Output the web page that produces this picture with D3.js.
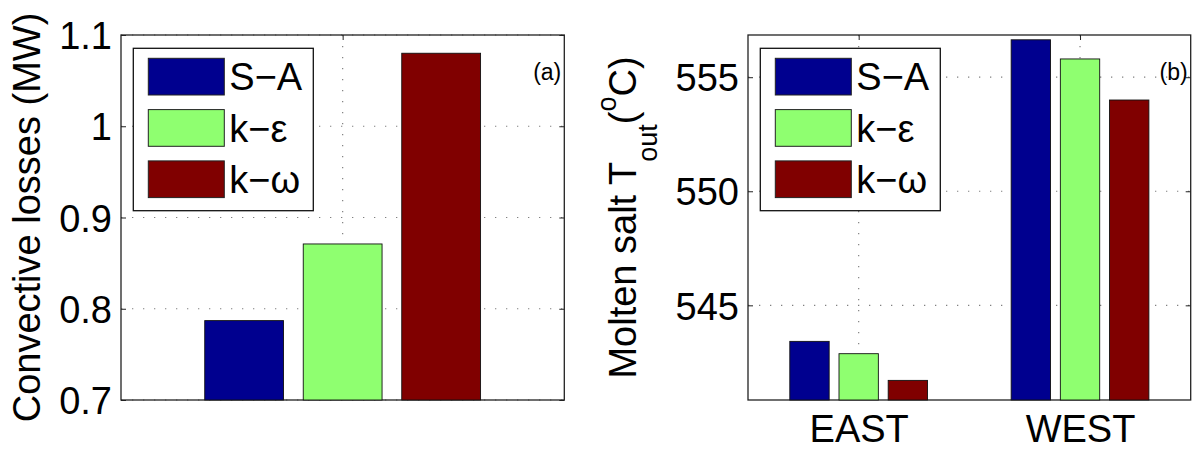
<!DOCTYPE html>
<html>
<head>
<meta charset="utf-8">
<script src="https://cdn.jsdelivr.net/npm/d3@7"></script>
<style>
  html, body { margin: 0; padding: 0; background: #fff; }
  svg { display: block; font-family: "Liberation Sans", Arial, Helvetica, sans-serif; }
</style>
</head>
<body>
<svg id="chart" width="1196" height="449"></svg>
<script>
// ---------- data ----------
const seriesNames = ["S\u2212A", "k\u2212\u03b5", "k\u2212\u03c9"];
const lossValues = [0.787, 0.871, 1.080];            // panel (a), MW
const lossTicks = [0.7, 0.8, 0.9, 1.0, 1.1];
const lossTickLabels = ["0.7", "0.8", "0.9", "1", "1.1"];
const regions = ["EAST", "WEST"];
const toutSA = [543.42, 556.64];                      // panel (b), °C
const toutKE = [542.88, 555.80];
const toutKW = [541.71, 554.00];
const toutTicks = [545, 550, 555];
const toutTickLabels = ["545", "550", "555"];

// ---------- styles ----------
const colors = ["#00008F", "#8FFF70", "#800000"];
const FS = 38;
const svg = d3.select("#chart");

function panel(opts) {
  const { x0, x1, y0, y1, xDomain, yDomain, xTicks, xLabels, yTicks, yLabels, groups, tag } = opts;
  const x = d3.scaleLinear().domain(xDomain).range([x0, x1]);
  const y = d3.scaleLinear().domain(yDomain).range([y1, y0]);
  const g = svg.append("g");

  // grid (dotted)
  const grid = g.append("g").attr("stroke", "#808080").attr("stroke-width", 1.2)
    .attr("stroke-dasharray", "1.3,9.7").attr("fill", "none");
  grid.selectAll("line.h").data(yTicks).join("line")
    .attr("x1", x0).attr("x2", x1).attr("y1", d => y(d)).attr("y2", d => y(d));
  grid.selectAll("line.v").data(xTicks).join("line")
    .attr("x1", d => x(d)).attr("x2", d => x(d)).attr("y1", y0).attr("y2", y1);

  // axes with inward ticks
  const styleAxis = sel => {
    sel.select(".domain").remove();
    sel.selectAll(".tick line").attr("stroke", "#222").attr("stroke-width", 1);
    sel.selectAll(".tick text").attr("font-size", FS).attr("fill", "#000")
      .attr("font-family", "Liberation Sans, Arial, Helvetica, sans-serif");
  };
  g.append("g").attr("transform", `translate(${x0},0)`)
    .call(d3.axisLeft(y).tickValues(yTicks).tickFormat((d, i) => yLabels[i]).tickSizeInner(-5).tickSizeOuter(0).tickPadding(9))
    .call(styleAxis)
    .selectAll(".tick text").attr("dy", "0.36em");
  g.append("g").attr("transform", `translate(${x1},0)`)
    .call(d3.axisRight(y).tickValues(yTicks).tickFormat("").tickSizeInner(-5).tickSizeOuter(0))
    .call(styleAxis);
  g.append("g").attr("transform", `translate(0,${y0})`)
    .call(d3.axisTop(x).tickValues(xTicks).tickFormat("").tickSizeInner(-5).tickSizeOuter(0))
    .call(styleAxis);
  const bottomAxis = g.append("g").attr("transform", `translate(0,${y1})`)
    .call(d3.axisBottom(x).tickValues(xTicks).tickFormat((d, i) => xLabels[i] || "").tickSizeInner(-5).tickSizeOuter(0).tickPadding(0))
    .call(styleAxis);
  bottomAxis.selectAll(".tick text").attr("dy", null).attr("y", 41.5);

  // frame
  g.append("rect").attr("x", x0).attr("y", y0).attr("width", x1 - x0).attr("height", y1 - y0)
    .attr("fill", "none").attr("stroke", "#222").attr("stroke-width", 1.3);

  // bars
  const offset = 2 / 9, bw = 0.8 * 2 / 9;
  groups.forEach((vals, gi) => {
    vals.forEach((v, si) => {
      const cx = xTicks[gi] + (si - 1) * offset;
      g.append("rect")
        .attr("x", x(cx - bw / 2)).attr("width", x(cx + bw / 2) - x(cx - bw / 2))
        .attr("y", y(v)).attr("height", y(yDomain[0]) - y(v))
        .attr("fill", colors[si]).attr("stroke", "#111").attr("stroke-width", 0.9);
    });
  });

  // legend
  const lx = x0 + 12.3, ly = y0 + 13.3, lw = 180, lh = 162.4;
  const leg = g.append("g");
  leg.append("rect").attr("x", lx).attr("y", ly).attr("width", lw).attr("height", lh)
    .attr("fill", "#fff").attr("stroke", "#111").attr("stroke-width", 1.3);
  seriesNames.forEach((name, i) => {
    const ry = ly + 10 + i * 51.3;
    leg.append("rect").attr("x", lx + 15).attr("y", ry).attr("width", 76).attr("height", 36.7)
      .attr("fill", colors[i]).attr("stroke", "#222").attr("stroke-width", 1);
    leg.append("text").attr("x", lx + 96).attr("y", ry + 18.35).attr("dy", "0.36em")
      .attr("font-size", FS).attr("fill", "#000").text(name);
  });

  // panel tag
  g.append("text").attr("x", x1 - 3).attr("y", y0 + 45).attr("text-anchor", "end")
    .attr("font-size", 23).attr("fill", "#000").text(tag);
  return g;
}

// Panel (a)
panel({
  x0: 121, x1: 564.3, y0: 35, y1: 400,
  xDomain: [0.5, 1.5], yDomain: [0.7, 1.1],
  xTicks: [1], xLabels: [""],
  yTicks: lossTicks, yLabels: lossTickLabels,
  groups: [lossValues], tag: "(a)"
});

// Panel (b)
panel({
  x0: 748, x1: 1190.7, y0: 35, y1: 400,
  xDomain: [0.5, 2.5], yDomain: [540.85, 556.85],
  xTicks: [1, 2], xLabels: regions,
  yTicks: toutTicks, yLabels: toutTickLabels,
  groups: regions.map((r, i) => [toutSA[i], toutKE[i], toutKW[i]]), tag: "(b)"
});

// y labels
svg.append("text").attr("transform", "translate(40,217.5) rotate(-90)")
  .attr("text-anchor", "middle").attr("font-size", FS).attr("fill", "#000")
  .text("Convective losses (MW)");

const yl = svg.append("text").attr("transform", "translate(636,217.5) rotate(-90)")
  .attr("text-anchor", "middle").attr("font-size", FS).attr("fill", "#000");
yl.append("tspan").text("Molten salt T");
yl.append("tspan").attr("dy", 21).attr("font-size", 27).text("out");
yl.append("tspan").attr("dy", -21).text("(");
yl.append("tspan").attr("dy", -20).attr("font-size", 27).text("o");
yl.append("tspan").attr("dy", 20).text("C)");
</script>
</body>
</html>
